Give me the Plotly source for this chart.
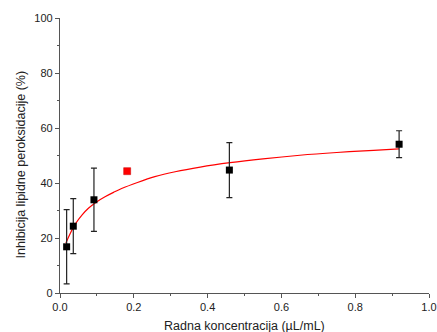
import plotly.graph_objects as go

# Measured points (black)
x_black = [0.018, 0.036, 0.092, 0.459, 0.919]
y_black = [16.8, 24.3, 33.9, 44.7, 54.1]
err_black = [13.5, 10.0, 11.5, 10.0, 4.9]

# Highlighted point (red)
x_red = [0.182]
y_red = [44.3]
err_red = [0.8]

# Fitted curve
x_fit = [0.016, 0.030, 0.041, 0.060, 0.077, 0.100, 0.122, 0.145, 0.167, 0.210, 0.257, 0.312,
         0.380, 0.461, 0.550, 0.650, 0.750, 0.850, 0.919]
y_fit = [18.2, 22.3, 25.0, 28.4, 30.8, 33.2, 35.0, 36.6, 38.0, 40.2, 42.3, 44.1,
         45.8, 47.4, 48.8, 50.1, 51.1, 51.9, 52.4]

x_ticks = [0.0, 0.2, 0.4, 0.6, 0.8, 1.0]
x_tick_text = ["0.0", "0.2", "0.4", "0.6", "0.8", "1.0"]
y_ticks = [0, 20, 40, 60, 80, 100]

FONT = "Liberation Sans, Arial"

fig = go.Figure()
fig.add_trace(go.Scatter(x=x_fit, y=y_fit, mode="lines", line=dict(color="#ff0000", width=1.2,
                         shape="spline"), hoverinfo="skip"))
fig.add_trace(go.Scatter(x=x_black, y=y_black, mode="markers",
                         marker=dict(symbol="square", color="black", size=7),
                         error_y=dict(type="data", array=err_black, color="#222222",
                                      thickness=1.2, width=3)))
fig.add_trace(go.Scatter(x=x_red, y=y_red, mode="markers",
                         marker=dict(symbol="square", color="#ff0000", size=7,
                                     line=dict(color="#cc0000", width=0.5)),
                         error_y=dict(type="data", array=err_red, color="#333333",
                                      thickness=1, width=3)))

axis_common = dict(showgrid=False, zeroline=False, showline=True, linecolor="#555555",
                   linewidth=1.3, ticks="outside", ticklen=4, tickwidth=1.2,
                   tickcolor="#555555", automargin=False,
                   tickfont=dict(family=FONT, size=11, color="#222222"))

fig.update_layout(
    width=437, height=332,
    margin=dict(l=60, r=8, t=18, b=39),
    paper_bgcolor="white", plot_bgcolor="white",
    showlegend=False,
    xaxis=dict(range=[0, 1.0], tickvals=x_ticks, ticktext=x_tick_text,
               minor=dict(ticks="outside", ticklen=2, tickwidth=1, tickcolor="#555555", dtick=0.1),
               **axis_common),
    yaxis=dict(range=[0, 100], tickvals=y_ticks,
               minor=dict(ticks="outside", ticklen=2, tickwidth=1, tickcolor="#555555", dtick=10),
               **axis_common),
    annotations=[
        dict(text="Radna koncentracija (\u00b5L/mL)", xref="paper", yref="paper", x=0.5, y=0,
             xanchor="center", yanchor="middle", yshift=-33, showarrow=False,
             font=dict(family=FONT, size=12.5, color="#222222")),
        dict(text="Inhibicija lipidne peroksidacije (%)", xref="paper", yref="paper", x=0, y=0.5,
             xanchor="center", yanchor="middle", xshift=-40, yshift=-9, textangle=-90,
             showarrow=False, font=dict(family=FONT, size=12.5, color="#222222")),
    ],
)

# Remove the page's default body margin so the figure fills the window exactly.
fig.write_html("out.html", config={"displayModeBar": False},
               post_script="document.body.style.margin='0';document.body.style.overflow='hidden';")
